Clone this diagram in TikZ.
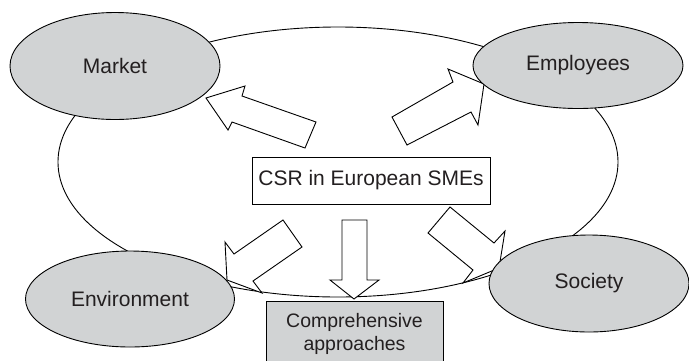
\documentclass[tikz,border=0pt]{standalone}
\usepackage{fontspec}
\setmainfont{Liberation Sans}
\usetikzlibrary{shapes.geometric}
\definecolor{fillgray}{HTML}{D1D3D4}
\definecolor{ink}{HTML}{231F20}
\begin{document}
\begin{tikzpicture}[x=1pt,y=-1pt,
  bubble/.style={ellipse, draw=black, fill=fillgray, line width=0.9pt, inner sep=0pt, text=ink, font=\fontsize{21}{24}\selectfont},
  blockarrow/.style={draw=black, fill=white, line width=0.9pt, line join=miter},
  labelbox/.style={draw=black, line width=0.9pt, inner sep=0pt, text=ink}]
\useasboundingbox (0,0) rectangle (689,360);
\fill[white] (0,0) rectangle (689,360);
% outer ring
\node[ellipse, draw=black, line width=0.9pt, minimum width=560pt, minimum height=270pt, inner sep=0pt] (ring) at (338,162) {};
% block arrows
\draw[blockarrow] (206,98) -- (245,86) -- (242,96) -- (316,122) -- (305,148) -- (232,122) -- (228,130) -- cycle;
\draw[blockarrow] (392,117) -- (453,82) -- (448,69) -- (484,84) -- (478,125) -- (471,112) -- (407,145) -- cycle;
\draw[blockarrow] (342,220) -- (367,220) -- (367,280) -- (379,280) -- (354,299) -- (330,280) -- (342,280) -- cycle;
\draw[blockarrow] (283,220) -- (302,247) -- (253,281) -- (262,293) -- (227,280) -- (225,242) -- (234,254) -- cycle;
\draw[blockarrow] (450,207) -- (494,243) -- (505,231) -- (499,268) -- (463,283) -- (473,270) -- (428,233) -- cycle;
% bubbles
\node[bubble, minimum width=210pt, minimum height=107pt] (market) at (115,66) {Market};
\node[bubble, minimum width=210pt, minimum height=86pt] (employees) at (578,65.5) {Employees};
\node[bubble, minimum width=209pt, minimum height=96pt] (environment) at (130,299) {Environment};
\node[bubble, minimum width=200pt, minimum height=97pt] (society) at (589,283.5) {Society};
% boxes
\node[labelbox, fill=white, minimum width=238pt, minimum height=47pt, font=\fontsize{21}{24}\selectfont] (csr) at (371,180.5) {CSR in European SMEs};
\node[labelbox, fill=fillgray, minimum width=177pt, minimum height=66pt, anchor=north, align=center, font=\fontsize{19.5}{23}\selectfont] (comp) at (354.5,301) {Comprehensive\\approaches};
\end{tikzpicture}
\end{document}
